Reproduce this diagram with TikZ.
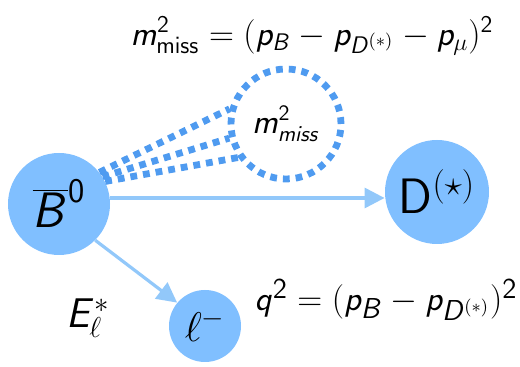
\documentclass[tikz,border=0pt]{standalone}
\usetikzlibrary{arrows.meta}
\DeclareMathAlphabet{\mathsfit}{OT1}{cmss}{m}{sl}
\newcommand{\vsf}[1]{\mathsfit{#1}}
\definecolor{ballblue}{HTML}{80BFFF}
\definecolor{dotblue}{HTML}{4F9BF0}
\definecolor{arrowblue}{HTML}{92C8FA}

\begin{document}
\begin{tikzpicture}[
  x=0.5pt, y=-0.5pt,
  ball/.style={circle, fill=ballblue, inner sep=0pt},
  flow/.style={-{Triangle[length=10pt,width=10pt]}, draw=arrowblue, line width=1.6pt},
  missing/.style={draw=dotblue, line width=3.4pt, dash pattern=on 3.4pt off 3pt},
  eqn/.style={font=\fontsize{17.5}{21}\selectfont}
]
\useasboundingbox (0,0) rectangle (520,367);

\node[ball, minimum size=51pt, font=\fontsize{25}{29}\selectfont] (B) at (59,204) {$\overline{\vsf{B}}^{\mathsf{0}}$};
\node[ball, minimum size=52pt, font=\fontsize{23}{28}\selectfont] (D) at (437,192) {$\mathsf{D}^{(\star)}$};
\node[ball, minimum size=36pt, font=\fontsize{22}{26}\selectfont] (lep) at (205,326) {$\ell^-$};
\node[circle, missing, minimum size=55pt, inner sep=0pt, font=\fontsize{16}{19}\selectfont] (miss) at (286,124) {$\vsf{m}^{\mathsf{2}}_{\vsf{miss}}$\hspace{4pt}};

% decay products
\draw[flow] (B.east |- 0,198) -- (D.west |- 0,198);
\draw[flow] (B.-45) -- (lep.140);

% missing particles
\draw[missing] (B.38) -- (miss.165);
\draw[missing] (B.32) -- (miss.194);
\draw[missing] (B.26) -- (miss.215);

% kinematic variables
\node[eqn] (mmiss) at (312,36) {$\vsf{m}^{\mathsf{2}}_{\mathsf{miss}} \mathrel{\mathsf{=}} (\vsf{p}_{\vsf{B}} - \vsf{p}_{\vsf{D}^{(*)}} - \vsf{p}_\mu)^{\mathsf{2}}$};
\node[eqn, font=\fontsize{19}{22}\selectfont] (qsq) at (386,300) {$\vsf{q}^{\mathsf{2}} \mathrel{\mathsf{=}} (\vsf{p}_{\vsf{B}} - \vsf{p}_{\vsf{D}^{(*)}})^{\mathsf{2}}$};
\node[font=\fontsize{22}{26}\selectfont] (Elep) at (88,318) {$\vsf{E}^*_\ell$};
\end{tikzpicture}
\end{document}
